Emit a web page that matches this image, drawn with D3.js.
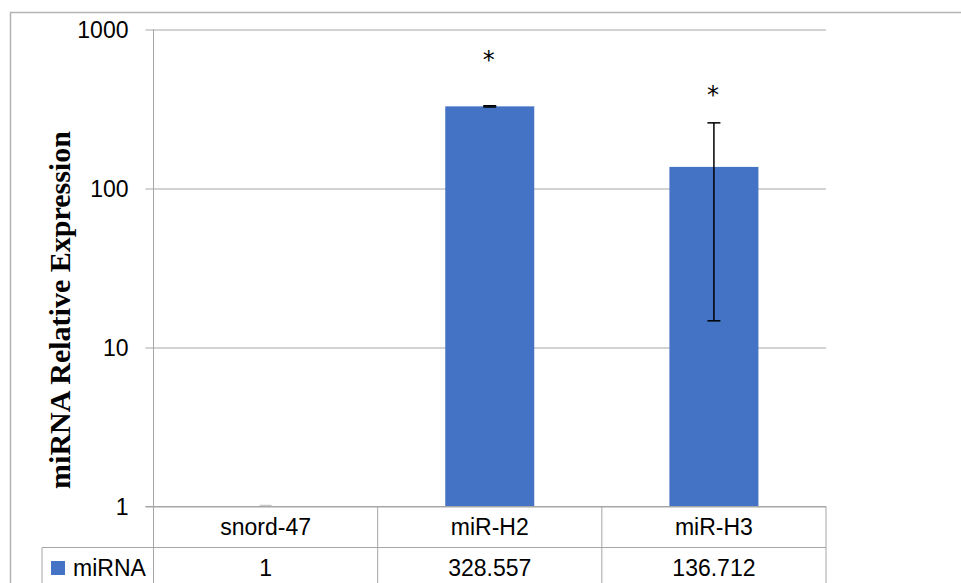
<!DOCTYPE html>
<meta charset="utf-8">
<style>
body { margin: 0; background: #fff; }
.tick text { font: 23px "Liberation Sans", Arial, sans-serif; fill: #000; }
.cell { font: 23px "Liberation Sans", Arial, sans-serif; fill: #000; }
</style>
<body>
<div id="chart"></div>
<script src="https://d3js.org/d3.v7.min.js"></script>
<script>
var categories = ["snord-47", "miR-H2", "miR-H3"];
var values = [1, 328.557, 136.712];
var errors = [0, 3, 122];
var starAt = [null, 670, 405];   // where the "*" sits, in data units
var seriesName = "miRNA";
var yTicks = [1, 10, 100, 1000];

var W = 961, H = 583;
var plotLeft = 153.5, plotRight = 826, plotTop = 29.5, plotBottom = 506.5;
var rowLine = 547.5, legendLeft = 42;
var gridColor = "#a6a6a6", barColor = "#4472C4";

var svg = d3.select("#chart").append("svg")
  .attr("width", W).attr("height", H);

// outer chart border
svg.append("path")
  .attr("d", "M10.5," + (H + 2) + "V12.5H" + (W + 2))
  .attr("fill", "none")
  .attr("stroke", "#b4b4b4")
  .attr("stroke-width", 1.5);

var x = d3.scaleBand().domain(categories).range([plotLeft, plotRight]).paddingInner(0);
var y = d3.scaleLog().domain([1, 1000]).range([plotBottom, plotTop]);

// gridlines + ticks (extend left past axis like tick marks)
svg.append("g")
  .attr("transform", "translate(" + plotLeft + ",0)")
  .call(d3.axisLeft(y).tickValues(yTicks).tickFormat(d3.format("d"))
    .tickSize(-(plotRight - plotLeft)).tickPadding(25))
  .call(function(g) {
    g.select(".domain").remove();
    g.selectAll(".tick line").attr("stroke", gridColor).attr("x1", -8);
    g.selectAll(".tick text").attr("dy", "0.35em");
  });

// y axis line
svg.append("line")
  .attr("x1", plotLeft).attr("x2", plotLeft)
  .attr("y1", plotTop).attr("y2", H + 2)
  .attr("stroke", gridColor);

// bars
var barW = 89;
svg.append("g").selectAll("rect")
  .data(values)
  .enter().append("rect")
  .attr("x", function(d, i) { return x(categories[i]) + x.bandwidth() / 2 - barW / 2; })
  .attr("y", function(d) { return y(d); })
  .attr("width", barW)
  .attr("height", function(d) { return y(1) - y(d); })
  .attr("fill", barColor);

// error bars
var eb = svg.append("g").attr("stroke", "#000").attr("stroke-width", 1.5);
values.forEach(function(v, i) {
  var cx = x(categories[i]) + x.bandwidth() / 2;
  var hi = y(v + errors[i]), lo = y(Math.max(1, v - errors[i]));
  if (errors[i] === 0) {
    eb.append("line").attr("x1", cx - 6).attr("x2", cx + 6)
      .attr("y1", hi - 1).attr("y2", hi - 1).attr("stroke", "#c8c8c8");
    return;
  }
  eb.append("line").attr("x1", cx).attr("x2", cx).attr("y1", hi).attr("y2", lo);
  eb.append("line").attr("x1", cx - 6.5).attr("x2", cx + 6.5).attr("y1", hi).attr("y2", hi);
  eb.append("line").attr("x1", cx - 6.5).attr("x2", cx + 6.5).attr("y1", lo).attr("y2", lo);
});

// significance stars
starAt.forEach(function(s, i) {
  if (s == null) return;
  svg.append("text")
    .attr("x", x(categories[i]) + x.bandwidth() / 2 - 1)
    .attr("y", y(s) + 11)
    .attr("text-anchor", "middle")
    .attr("font-family", "DejaVu Sans, sans-serif")
    .attr("font-size", "24px")
    .text("*");
});

// data table
var t = svg.append("g").attr("stroke", gridColor).attr("fill", "none");
t.append("line").attr("x1", plotLeft - 8).attr("x2", plotRight).attr("y1", plotBottom).attr("y2", plotBottom);
t.append("line").attr("x1", legendLeft).attr("x2", plotRight).attr("y1", rowLine).attr("y2", rowLine);
t.append("line").attr("x1", legendLeft).attr("x2", legendLeft).attr("y1", rowLine).attr("y2", H + 2);
categories.forEach(function(c) {
  var xe = x(c) + x.bandwidth();
  t.append("line").attr("x1", xe).attr("x2", xe).attr("y1", plotBottom).attr("y2", H + 2);
});

svg.append("g").selectAll("text")
  .data(categories)
  .enter().append("text")
  .attr("class", "cell")
  .attr("x", function(d) { return x(d) + x.bandwidth() / 2; })
  .attr("y", 535)
  .attr("text-anchor", "middle")
  .text(function(d) { return d; });

svg.append("g").selectAll("text")
  .data(values)
  .enter().append("text")
  .attr("class", "cell")
  .attr("x", function(d, i) { return x(categories[i]) + x.bandwidth() / 2; })
  .attr("y", 576)
  .attr("text-anchor", "middle")
  .text(function(d) { return String(d); });

svg.append("rect")
  .attr("x", 51).attr("y", 561).attr("width", 14).attr("height", 14)
  .attr("fill", barColor);
svg.append("text")
  .attr("class", "cell")
  .attr("x", 73).attr("y", 576)
  .text(seriesName);

// y axis title
svg.append("text")
  .attr("transform", "translate(70,310) rotate(-90)")
  .attr("text-anchor", "middle")
  .attr("font-family", "Liberation Serif, Times New Roman, serif")
  .attr("font-weight", "bold")
  .attr("font-size", "30px")
  .text("miRNA Relative Expression");
</script>
</body>
